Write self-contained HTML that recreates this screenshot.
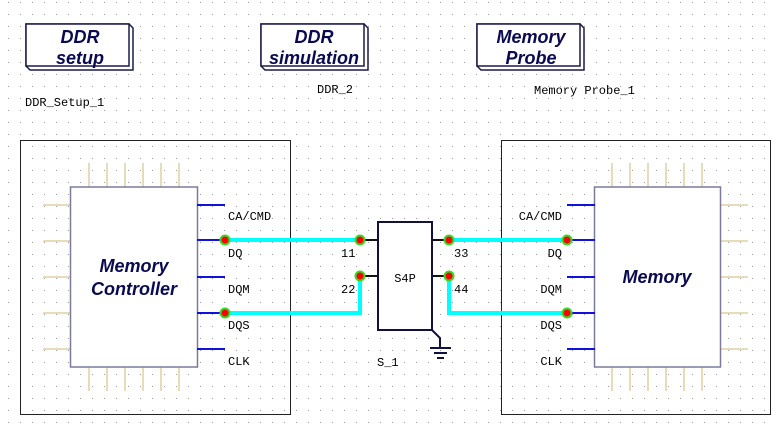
<!DOCTYPE html>
<html><head><meta charset="utf-8"><style>
html,body{margin:0;padding:0;background:#fff;}
svg{display:block;}
.lbl{font-family:"Liberation Mono",monospace;font-size:12px;fill:#000;}
.big{font-family:"Liberation Sans",sans-serif;font-weight:bold;font-style:italic;font-size:18px;fill:#0a0a50;text-anchor:middle;}
</style></head><body>
<svg width="776" height="431" viewBox="0 0 776 431" xmlns="http://www.w3.org/2000/svg">
<defs>
<pattern id="g" x="8" y="2" width="12" height="12" patternUnits="userSpaceOnUse"><rect x="0" y="0" width="1" height="1" fill="#9a9a9a"/></pattern>
</defs>
<rect width="776" height="431" fill="url(#g)"/>

<!-- top boxes -->
<g stroke="#1a1a4a" stroke-width="1.5" fill="#fff">
<polygon points="26,24 129,24 133,28 133,70 30,70 26,66"/>
<rect x="26" y="24" width="103" height="42"/>
<polygon points="261,24 364,24 368,28 368,70 265,70 261,66"/>
<rect x="261" y="24" width="103" height="42"/>
<polygon points="477,24 580,24 584,28 584,70 481,70 477,66"/>
<rect x="477" y="24" width="103" height="42"/>
</g>
<text class="big" x="80" y="43">DDR</text><text class="big" x="80" y="64">setup</text>
<text class="big" x="314" y="43">DDR</text><text class="big" x="314" y="64">simulation</text>
<text class="big" x="531" y="43">Memory</text><text class="big" x="531" y="64">Probe</text>
<text class="lbl" x="25" y="106">DDR_Setup_1</text>
<text class="lbl" x="317" y="93">DDR_2</text>
<text class="lbl" x="534" y="94">Memory Probe_1</text>

<!-- outer boxes -->
<rect x="20.5" y="140.5" width="270" height="274" fill="none" stroke="#222" stroke-width="1"/>
<rect x="501.5" y="140.5" width="269" height="274" fill="none" stroke="#222" stroke-width="1"/>

<!-- tan pins left component -->
<g stroke="#e0d0a0" stroke-width="1.5">
<line x1="89" y1="163" x2="89" y2="187"/><line x1="107" y1="163" x2="107" y2="187"/><line x1="125" y1="163" x2="125" y2="187"/><line x1="143" y1="163" x2="143" y2="187"/><line x1="161" y1="163" x2="161" y2="187"/><line x1="179" y1="163" x2="179" y2="187"/>
<line x1="89" y1="367" x2="89" y2="391"/><line x1="107" y1="367" x2="107" y2="391"/><line x1="125" y1="367" x2="125" y2="391"/><line x1="143" y1="367" x2="143" y2="391"/><line x1="161" y1="367" x2="161" y2="391"/><line x1="179" y1="367" x2="179" y2="391"/>
<line x1="43" y1="205" x2="70" y2="205"/><line x1="43" y1="241" x2="70" y2="241"/><line x1="43" y1="277" x2="70" y2="277"/><line x1="43" y1="313" x2="70" y2="313"/><line x1="43" y1="349" x2="70" y2="349"/>
<line x1="612" y1="163" x2="612" y2="187"/><line x1="630" y1="163" x2="630" y2="187"/><line x1="648" y1="163" x2="648" y2="187"/><line x1="666" y1="163" x2="666" y2="187"/><line x1="684" y1="163" x2="684" y2="187"/><line x1="702" y1="163" x2="702" y2="187"/>
<line x1="612" y1="367" x2="612" y2="391"/><line x1="630" y1="367" x2="630" y2="391"/><line x1="648" y1="367" x2="648" y2="391"/><line x1="666" y1="367" x2="666" y2="391"/><line x1="684" y1="367" x2="684" y2="391"/><line x1="702" y1="367" x2="702" y2="391"/>
<line x1="720" y1="205" x2="748" y2="205"/><line x1="720" y1="241" x2="748" y2="241"/><line x1="720" y1="277" x2="748" y2="277"/><line x1="720" y1="313" x2="748" y2="313"/><line x1="720" y1="349" x2="748" y2="349"/>
</g>

<rect x="70.5" y="187" width="127" height="180" fill="#fff" stroke="#7a7a9a" stroke-width="1.5"/>
<rect x="594.5" y="187" width="126" height="180" fill="#fff" stroke="#7a7a9a" stroke-width="1.5"/>
<text class="big" x="134" y="272">Memory</text><text class="big" x="134" y="295">Controller</text>
<text class="big" x="657" y="283">Memory</text>

<!-- blue pins -->
<g stroke="#1010e0" stroke-width="2">
<line x1="197" y1="205" x2="225" y2="205"/><line x1="197" y1="240" x2="225" y2="240"/><line x1="197" y1="277" x2="225" y2="277"/><line x1="197" y1="313" x2="225" y2="313"/><line x1="197" y1="349" x2="225" y2="349"/>
<line x1="567" y1="205" x2="595" y2="205"/><line x1="567" y1="240" x2="595" y2="240"/><line x1="567" y1="277" x2="595" y2="277"/><line x1="567" y1="313" x2="595" y2="313"/><line x1="567" y1="349" x2="595" y2="349"/>
</g>
<g class="lbl">
<text class="lbl" x="228" y="220">CA/CMD</text><text class="lbl" x="228" y="257">DQ</text><text class="lbl" x="228" y="293">DQM</text><text class="lbl" x="228" y="329">DQS</text><text class="lbl" x="228" y="365">CLK</text>
<text class="lbl" x="562" y="220" text-anchor="end">CA/CMD</text><text class="lbl" x="562" y="257" text-anchor="end">DQ</text><text class="lbl" x="562" y="293" text-anchor="end">DQM</text><text class="lbl" x="562" y="329" text-anchor="end">DQS</text><text class="lbl" x="562" y="365" text-anchor="end">CLK</text>
</g>

<!-- cyan wires -->
<g stroke="#00ffff" stroke-width="4" fill="none">
<polyline points="225,240 360,240"/>
<polyline points="225,313 360,313 360,276"/>
<polyline points="449,240 567,240"/>
<polyline points="449,276 449,313 567,313"/>
</g>

<!-- S4P -->
<g stroke="#111" stroke-width="2">
<line x1="360" y1="240" x2="378" y2="240"/><line x1="360" y1="276" x2="378" y2="276"/>
<line x1="432" y1="240" x2="449" y2="240"/><line x1="432" y1="276" x2="449" y2="276"/>
</g>
<rect x="378" y="222" width="54" height="108" fill="#fff" stroke="#111140" stroke-width="2"/>
<text class="lbl" x="405" y="282" text-anchor="middle">S4P</text>
<g stroke="#111140" stroke-width="2">
<polyline points="432,330 440,338 440,348" fill="none"/>
<line x1="430" y1="348" x2="451" y2="348"/>
<line x1="434" y1="353" x2="447" y2="353"/>
<line x1="437" y1="358" x2="444" y2="358"/>
</g>
<text class="lbl" x="341" y="257">11</text><text class="lbl" x="341" y="293">22</text>
<text class="lbl" x="454" y="257">33</text><text class="lbl" x="454" y="293">44</text>
<text class="lbl" x="377" y="366">S_1</text>

<!-- dots -->
<g fill="#ff0000" stroke="#33dd22" stroke-width="2">
<circle cx="225" cy="240" r="4.5"/><circle cx="225" cy="313" r="4.5"/>
<circle cx="360" cy="240" r="4.5"/><circle cx="360" cy="276" r="4.5"/>
<circle cx="449" cy="240" r="4.5"/><circle cx="449" cy="276" r="4.5"/>
<circle cx="567" cy="240" r="4.5"/><circle cx="567" cy="313" r="4.5"/>
</g>
</svg>
</body></html>
